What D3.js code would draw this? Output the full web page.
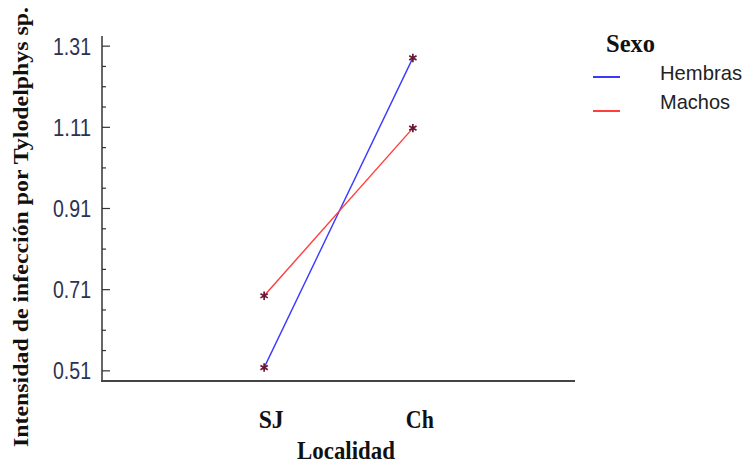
<!DOCTYPE html>
<html lang="es">
<head>
  <meta charset="UTF-8">
  <style>
    body {
      margin: 0;
      background: #fff;
      overflow: hidden;
    }

    svg {
      display: block;
    }

    .serif {
      font-family: "Liberation Serif", "Times New Roman", serif;
      font-weight: bold;
      fill: #111;
    }

    .tick-label {
      font-family: "Liberation Sans", Arial, sans-serif;
      font-size: 24px;
      fill: #2b3352;
    }

    .legend-label {
      font-family: "Liberation Sans", Arial, sans-serif;
      font-size: 21px;
      fill: #222;
    }
  </style>
  <script src="https://d3js.org/d3.v7.min.js"></script>
</head>
<body>

<svg id="chart"></svg>

<script>
  // data
  const localidades = ["SJ", "Ch"];
  const series = ["Hembras", "Machos"];
  const hembras = [0.518, 1.281];
  const machos = [0.695, 1.108];
  const yTicks = [0.51, 0.71, 0.91, 1.11, 1.31];
  const yMinorTicks = [0.56, 0.61, 0.66, 0.76, 0.81, 0.86, 0.96, 1.01, 1.06, 1.16, 1.21, 1.26];
  const colors = ["#3a3aff", "#ff3d3d"];

  const width = 745, height = 467;

  const svg = d3.select("#chart")
    .attr("width", width)
    .attr("height", height);

  const x = d3.scalePoint()
    .domain(localidades)
    .range([102, 575])
    .padding(1.09);

  const y = d3.scaleLinear()
    .domain([0.485, 1.335])
    .range([381, 36]);

  // y axis with major and minor ticks pointing inward
  const yAxis = svg.append("g");
  yAxis.append("line")
    .attr("x1", 102).attr("x2", 102)
    .attr("y1", y.range()[1]).attr("y2", y.range()[0] + 1)
    .attr("stroke", "#333").attr("stroke-width", 1.5);

  yAxis.selectAll(".major")
    .data(yTicks)
    .join("line")
    .attr("x1", 102).attr("x2", 110)
    .attr("y1", d => y(d)).attr("y2", d => y(d))
    .attr("stroke", "#333").attr("stroke-width", 1.2);

  yAxis.selectAll(".minor")
    .data(yMinorTicks)
    .join("line")
    .attr("x1", 102).attr("x2", 106)
    .attr("y1", d => y(d)).attr("y2", d => y(d))
    .attr("stroke", "#333").attr("stroke-width", 1.2);

  yAxis.selectAll(".tick-label")
    .data(yTicks)
    .join("text")
    .attr("class", "tick-label")
    .attr("x", 91)
    .attr("y", d => y(d) + 8.5)
    .attr("text-anchor", "end")
    .attr("textLength", 38)
    .attr("lengthAdjust", "spacingAndGlyphs")
    .text(d => d.toFixed(2));

  // bottom axis line (no ticks in the original)
  svg.append("line")
    .attr("x1", 101).attr("x2", 575)
    .attr("y1", 381).attr("y2", 381)
    .attr("stroke", "#444").attr("stroke-width", 2);

  const labelWidths = { SJ: 25, Ch: 28 };
  svg.selectAll(".x-label")
    .data(localidades)
    .join("text")
    .attr("class", "serif")
    .attr("x", d => x(d) + 7)
    .attr("y", 428)
    .attr("text-anchor", "middle")
    .attr("textLength", d => labelWidths[d])
    .attr("lengthAdjust", "spacingAndGlyphs")
    .style("font-size", "25px")
    .text(d => d);

  svg.append("text")
    .attr("class", "serif")
    .attr("x", 346)
    .attr("y", 459)
    .attr("text-anchor", "middle")
    .attr("textLength", 98)
    .attr("lengthAdjust", "spacingAndGlyphs")
    .style("font-size", "25px")
    .text("Localidad");

  svg.append("text")
    .attr("class", "serif")
    .attr("transform", "translate(28,227) rotate(-90)")
    .attr("text-anchor", "middle")
    .attr("textLength", 440)
    .attr("lengthAdjust", "spacingAndGlyphs")
    .style("font-size", "22px")
    .text("Intensidad de infección por Tylodelphys sp.");

  // series lines and markers
  const values = [hembras, machos];
  const line = d3.line()
    .x((d, i) => x(localidades[i]))
    .y(d => y(d));

  svg.selectAll(".series")
    .data(values)
    .join("path")
    .attr("d", d => line(d))
    .attr("fill", "none")
    .attr("stroke", (d, i) => colors[i])
    .attr("stroke-width", 1.4);

  const star = d3.symbol().type(d3.symbolAsterisk).size(50);
  values.forEach(vals => {
    svg.selectAll(null)
      .data(vals)
      .join("path")
      .attr("transform", (d, i) => `translate(${x(localidades[i])},${y(d)})`)
      .attr("d", star)
      .attr("fill", "none")
      .attr("stroke", "#6a1535")
      .attr("stroke-width", 1.7);
  });

  // legend
  const legend = svg.append("g");
  legend.append("text")
    .attr("class", "serif")
    .attr("x", 606)
    .attr("y", 52)
    .attr("textLength", 49)
    .attr("lengthAdjust", "spacingAndGlyphs")
    .style("font-size", "25px")
    .text("Sexo");

  const legendY = [77, 111];
  const legendTextY = [80, 109];
  series.forEach((name, i) => {
    legend.append("line")
      .attr("x1", 593).attr("x2", 620)
      .attr("y1", legendY[i]).attr("y2", legendY[i])
      .attr("stroke", colors[i])
      .attr("stroke-width", 2);
    legend.append("text")
      .attr("class", "legend-label")
      .attr("x", 660)
      .attr("y", legendTextY[i])
      .attr("textLength", i === 0 ? 82 : 70)
      .attr("lengthAdjust", "spacingAndGlyphs")
      .text(name);
  });
</script>

</body>
</html>
